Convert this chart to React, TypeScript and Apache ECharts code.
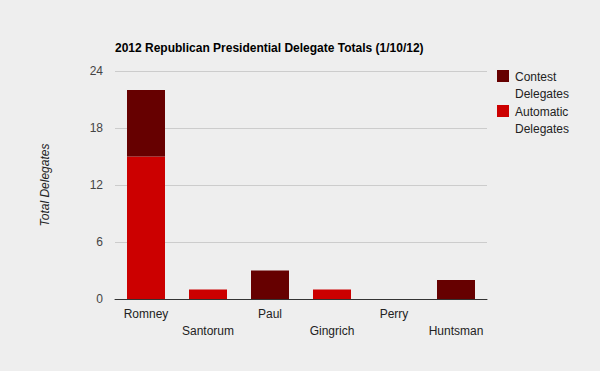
import React, { useEffect, useRef } from "react";
import * as echarts from "echarts";

const categories = ["Romney", "Santorum", "Paul", "Gingrich", "Perry", "Huntsman"];
const automaticDelegates = [15, 1, 0, 1, 0, 0];
const contestDelegates = [7, 0, 3, 0, 0, 2];
const seriesNames = ["Contest Delegates", "Automatic Delegates"];
const seriesColors = ["#660000", "#cc0000"];
const yTicks = { min: 0, max: 24, interval: 6 };
const titleText = "2012 Republican Presidential Delegate Totals (1/10/12)";
const yAxisTitle = "Total Delegates";

const FONT = "Arial, 'Liberation Sans', sans-serif";

export default function App() {
  const ref = useRef<HTMLDivElement>(null);
  useEffect(() => {
    document.body.style.margin = "0";
    const chart = echarts.init(ref.current!, null, { renderer: "svg" });
    const legendGraphics: any[] = [];
    seriesNames.forEach((name, i) => {
      const top = 70 + i * 35;
      legendGraphics.push({
        type: "rect",
        shape: { x: 497, y: top, width: 12, height: 12 },
        style: { fill: seriesColors[i] },
      });
      legendGraphics.push({
        type: "text",
        x: 515,
        y: top - 2,
        style: {
          text: name.replace(" ", "\n"),
          font: `12px ${FONT}`,
          fill: "#222222",
          lineHeight: 17,
          verticalAlign: "top",
        },
      });
    });
    chart.setOption({
      animation: false,
      backgroundColor: "#eeeeee",
      textStyle: { fontFamily: FONT },
      title: {
        text: titleText,
        left: 110,
        top: 37,
        textStyle: { fontSize: 12, fontWeight: "bold", color: "#000000", fontFamily: FONT },
      },
      grid: { left: 115, right: 113, top: 71, bottom: 72 },
      xAxis: {
        type: "category",
        data: categories,
        axisLine: { lineStyle: { color: "#333333" } },
        axisTick: { show: false },
        axisLabel: {
          interval: 0,
          color: "#222222",
          fontSize: 12,
          margin: 6,
          lineHeight: 17,
          formatter: (v: string, idx: number) => (idx % 2 === 1 ? "\n" + v : v),
          verticalAlign: "top",
        },
      },
      yAxis: {
        type: "value",
        min: yTicks.min,
        max: yTicks.max,
        interval: yTicks.interval,
        name: yAxisTitle,
        nameLocation: "middle",
        nameGap: 64,
        nameTextStyle: { fontStyle: "italic", color: "#222222", fontSize: 12, fontFamily: FONT },
        axisLine: { show: false },
        axisTick: { show: false },
        axisLabel: { color: "#444444", fontSize: 12, margin: 12 },
        splitLine: { lineStyle: { color: "#cccccc" } },
      },
      series: [
        {
          name: seriesNames[1],
          type: "bar",
          stack: "total",
          data: automaticDelegates,
          barWidth: 38,
          itemStyle: { color: seriesColors[1] },
        },
        {
          name: seriesNames[0],
          type: "bar",
          stack: "total",
          data: contestDelegates,
          barWidth: 38,
          itemStyle: { color: seriesColors[0] },
        },
      ],
      graphic: legendGraphics,
    });
    return () => chart.dispose();
  }, []);
  return <div ref={ref} style={{ width: 600, height: 371 }} />;
}
